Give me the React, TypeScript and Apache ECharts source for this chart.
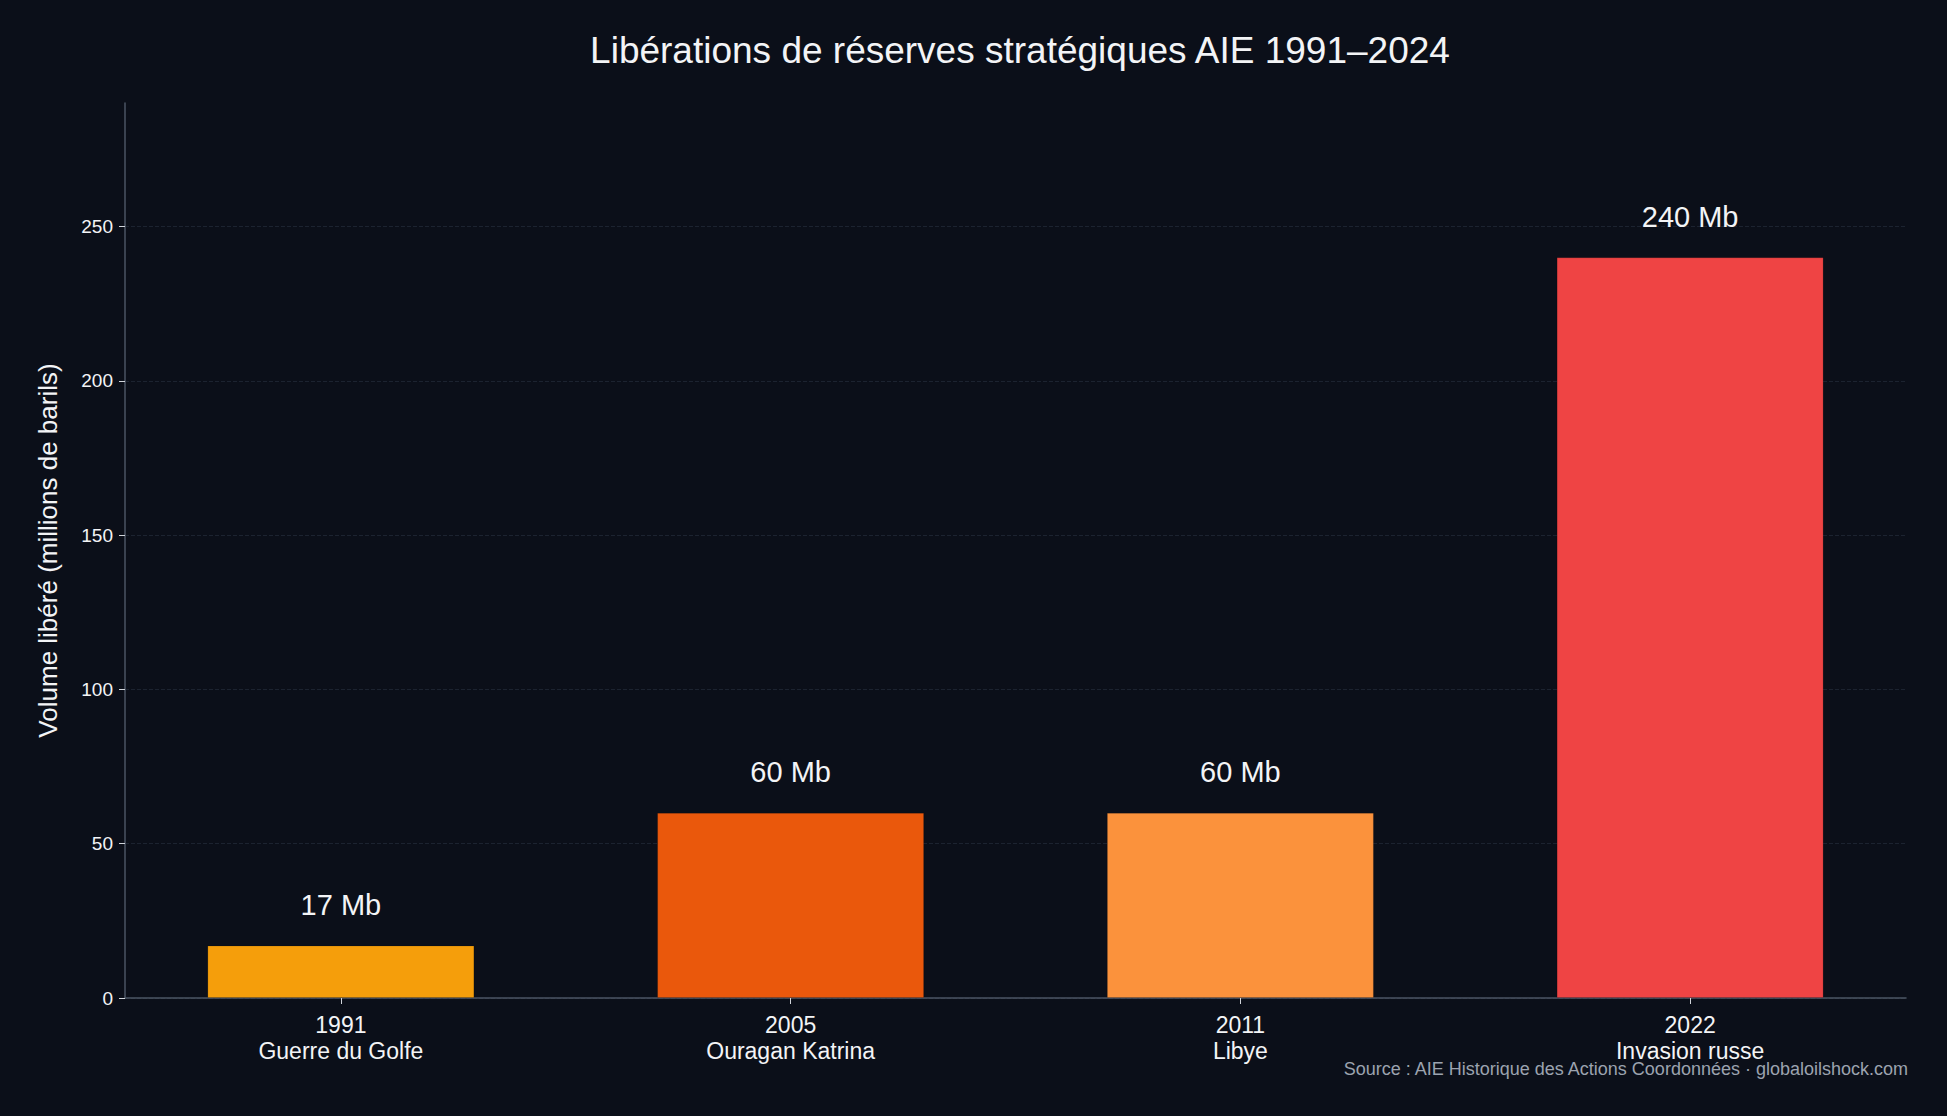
import React, { useEffect, useRef } from 'react';
import * as echarts from 'echarts';

const years = ['1991', '2005', '2011', '2022'];
const events = ['Guerre du Golfe', 'Ouragan Katrina', 'Libye', 'Invasion russe'];
const volumes = [17, 60, 60, 240];
const barColors = ['#F59E0B', '#EA580C', '#FB923C', '#EF4444'];
const yTicks = [0, 50, 100, 150, 200, 250];
const xPositions = [0, 1, 2, 3];

const BG = '#0b0f19';
const FONT = '"Liberation Sans", Arial, sans-serif';

const App: React.FC = () => {
  const chartRef = useRef<HTMLDivElement>(null);

  useEffect(() => {
    if (!chartRef.current) return;
    document.body.style.margin = '0';
    document.body.style.background = BG;

    const chart = echarts.init(chartRef.current, undefined, { renderer: 'svg' });

    const option = {
      animation: false,
      backgroundColor: BG,
      textStyle: { fontFamily: FONT },
      title: {
        text: 'Libérations de réserves stratégiques AIE 1991–2024',
        left: 1015,
        top: 27,
        textAlign: 'center',
        textStyle: {
          color: '#f3f4f6',
          fontSize: 37,
          fontWeight: 'normal',
          fontFamily: FONT
        }
      },
      grid: {
        left: 125,
        right: 41,
        top: 103,
        bottom: 118
      },
      xAxis: {
        type: 'value',
        min: -0.48,
        max: 3.48,
        axisLine: { show: true, onZero: true, lineStyle: { color: '#4b5563', width: 1.5 } },
        axisTick: {
          show: true,
          customValues: xPositions,
          length: 6,
          lineStyle: { color: '#d1d5db', width: 1 }
        },
        axisLabel: {
          customValues: xPositions,
          color: '#f3f4f6',
          fontSize: 23,
          lineHeight: 26,
          margin: 14,
          fontFamily: FONT,
          formatter: (v: number) => {
            const i = Math.round(v);
            return years[i] + '\n' + events[i];
          }
        },
        splitLine: { show: false }
      },
      yAxis: {
        type: 'value',
        min: 0,
        max: 290,
        name: 'Volume libéré (millions de barils)',
        nameLocation: 'middle',
        nameGap: 64,
        nameTextStyle: {
          color: '#f3f4f6',
          fontSize: 26,
          fontFamily: FONT
        },
        axisLine: { show: true, onZero: false, lineStyle: { color: '#4b5563', width: 1.5 } },
        axisTick: {
          show: true,
          customValues: yTicks,
          length: 6,
          lineStyle: { color: '#d1d5db', width: 1 }
        },
        axisLabel: {
          customValues: yTicks,
          color: '#f3f4f6',
          fontSize: 19,
          margin: 12,
          fontFamily: FONT
        },
        splitLine: {
          show: true,
          lineStyle: { color: '#1c2330', type: 'dashed', width: 1 }
        }
      },
      series: [
        {
          type: 'bar',
          barWidth: 267,
          data: volumes.map((v, i) => ({
            value: [xPositions[i], v],
            itemStyle: {
              color: barColors[i],
              borderColor: 'rgba(0,0,0,0.12)',
              borderWidth: 1
            }
          })),
          label: {
            show: true,
            position: 'top',
            distance: 26,
            color: '#f3f4f6',
            fontSize: 29,
            fontFamily: FONT,
            formatter: (p: any) => p.value[1] + ' Mb'
          }
        }
      ],
      graphic: [
        {
          type: 'text',
          right: 37,
          top: 1060,
          style: {
            text: 'Source : AIE Historique des Actions Coordonnées · globaloilshock.com',
            fill: '#9ca3af',
            fontSize: 18,
            fontFamily: FONT
          }
        }
      ]
    };

    chart.setOption(option);

    const handleResize = () => {
      chart.resize();
    };
    window.addEventListener('resize', handleResize);

    return () => {
      window.removeEventListener('resize', handleResize);
      chart.dispose();
    };
  }, []);

  return (
    <div
      ref={chartRef}
      style={{
        width: '1947px',
        height: '1116px',
        backgroundColor: BG
      }}
    />
  );
};

export default App;
